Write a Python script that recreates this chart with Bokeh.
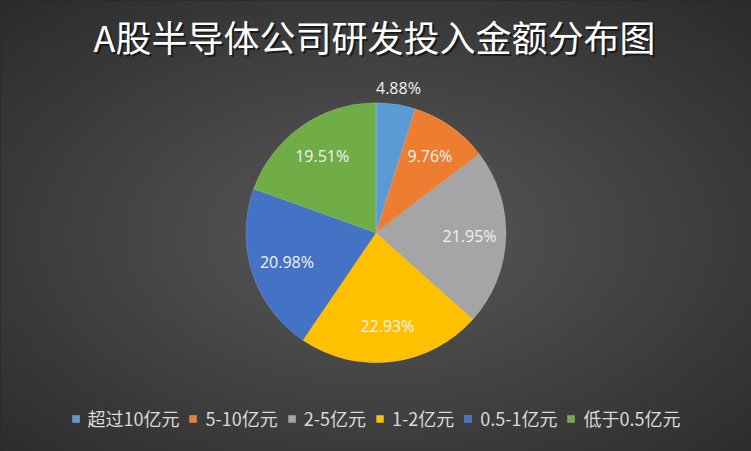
import numpy as np
from bokeh.plotting import figure
from bokeh.models import ColumnDataSource, Range1d, Label, Legend, LegendItem
from bokeh.core.properties import value
from bokeh.embed import file_html
from bokeh.resources import INLINE

# ---- data ----
title_text = "A股半导体公司研发投入金额分布图"
categories = ["超过10亿元", "5-10亿元", "2-5亿元", "1-2亿元", "0.5-1亿元", "低于0.5亿元"]
shares = [4.88, 9.76, 21.95, 22.93, 20.98, 19.51]
colors = ["#5B9BD5", "#ED7D31", "#A5A5A5", "#FFC000", "#4472C4", "#70AD47"]

# ---- canvas (reference pixel coordinates, y pointing up) ----
W, H = 751, 451
p = figure(width=W, height=H, output_backend="svg", toolbar_location=None,
           x_range=Range1d(0, W), y_range=Range1d(0, H), min_border=0,
           x_axis_location=None, y_axis_location=None)
p.grid.visible = False
p.outline_line_color = None
p.background_fill_color = "#2b2b2b"
p.border_fill_color = "#2b2b2b"

# radial gradient background
xs = np.arange(0, W) + 0.5
ys = np.arange(0, H) + 0.5
X, Y = np.meshgrid(xs, ys)
gcx, gcy = 375.5, H - 235
d = np.sqrt(((X - gcx) / W) ** 2 + ((Y - gcy) / H) ** 2)
d = d / d.max()
g = (0x5a - (0x5a - 0x2b) * d).astype(np.uint8)
img = np.empty(g.shape, dtype=np.uint32)
view = img.view(dtype=np.uint8).reshape(g.shape + (4,))
view[..., 0] = g
view[..., 1] = g
view[..., 2] = g
view[..., 3] = 255
p.image_rgba(image=[img], x=0, y=0, dw=W, dh=H)

# ---- pie ----
cx, cy, R = 375.5, H - 232.3, 130
fr = np.array(shares) / sum(shares)
cum = np.concatenate([[0.0], np.cumsum(fr)])
start = np.pi / 2 - cum[:-1] * 2 * np.pi
end = np.pi / 2 - cum[1:] * 2 * np.pi
src = ColumnDataSource(dict(cat=categories, share=shares, color=colors, start=start, end=end))
r = p.wedge(x=cx, y=cy, radius=R, start_angle="start", end_angle="end", direction="clock",
            fill_color="color", line_color="white", line_alpha=0.2, line_width=0.8, source=src)

mid = np.pi / 2 - (cum[:-1] + cum[1:]) / 2 * 2 * np.pi
rl = np.where(fr < 0.06, 1.13 * R, 0.72 * R)
lab = ColumnDataSource(dict(x=cx + rl * np.cos(mid), y=cy + rl * np.sin(mid),
                            t=[f"{s:.2f}%" for s in shares]))
p.text(x="x", y="y", text="t", source=lab, text_align="center", text_baseline="middle",
       text_font=value("Open Sans"), text_font_size="16px", text_color="#f2f2f2")

# ---- title with shadow ----
p.add_layout(Label(x=376, y=H - 37, text=title_text, text_align="center", text_baseline="middle",
                   text_font="Noto Sans CJK SC", text_font_size="36px", text_color="black",
                   text_alpha=0.55))
p.add_layout(Label(x=374, y=H - 35, text=title_text, text_align="center", text_baseline="middle",
                   text_font="Noto Sans CJK SC", text_font_size="36px", text_color="white"))

# ---- legend ----
items = [LegendItem(label=c, renderers=[r], index=i) for i, c in enumerate(categories)]
legend = Legend(items=items, orientation="horizontal", location="bottom_center",
                background_fill_alpha=0, border_line_alpha=0,
                label_text_color="#d9d9d9", label_text_font="Noto Sans CJK SC",
                label_text_font_size="18px", glyph_width=9, glyph_height=9,
                label_standoff=8, spacing=9, padding=0, margin=20)
p.add_layout(legend)

html = file_html(p, INLINE, title=title_text)
html = html.replace("</head>", "<style>body{background:#2b2b2b;}</style></head>", 1)
open("out.html", "w").write(html)
